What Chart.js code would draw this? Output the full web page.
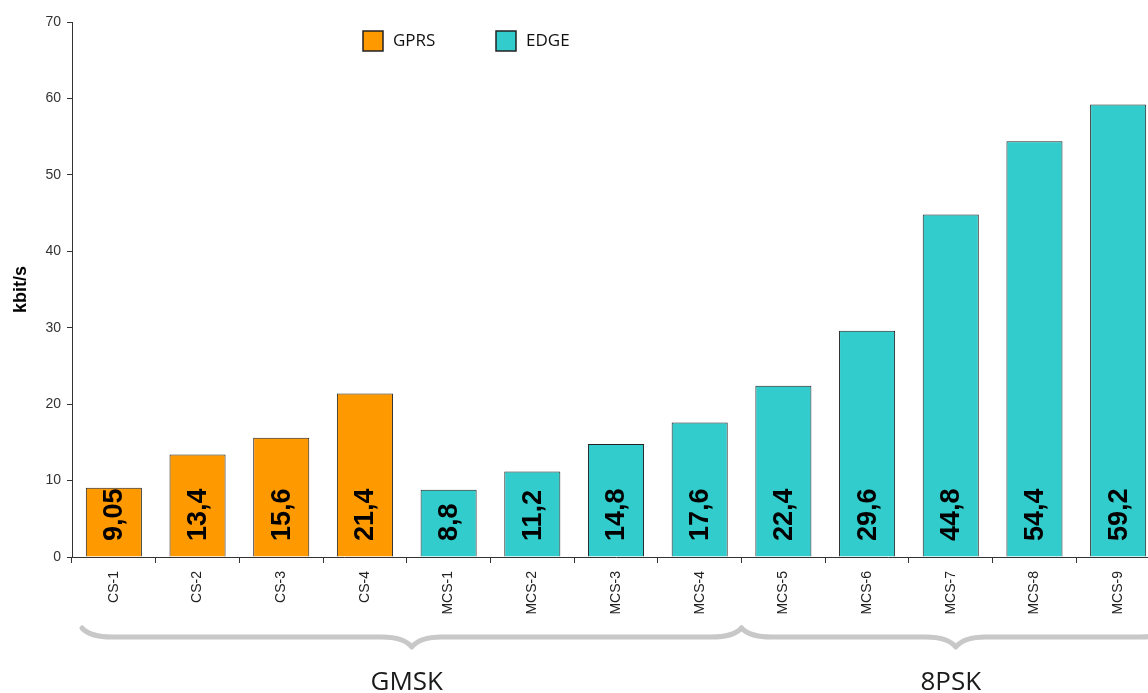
<!DOCTYPE html>
<html>
<head>
<meta charset="utf-8">
<script src="https://cdn.jsdelivr.net/npm/chart.js@4.4.0/dist/chart.umd.min.js"></script>
<style>
  html, body { margin: 0; padding: 0; background: #fff; overflow: hidden; }
  #wrap { width: 1160px; height: 693px; }
</style>
</head>
<body>
<div id="wrap"><canvas id="myChart" width="1160" height="693"></canvas></div>
<script>
const categories = ['CS-1', 'CS-2', 'CS-3', 'CS-4', 'MCS-1', 'MCS-2', 'MCS-3', 'MCS-4', 'MCS-5', 'MCS-6', 'MCS-7', 'MCS-8', 'MCS-9'];
const gprsValues = [9.05, 13.4, 15.6, 21.4, null, null, null, null, null, null, null, null, null];
const edgeValues = [null, null, null, null, 8.8, 11.2, 14.8, 17.6, 22.4, 29.6, 44.8, 54.4, 59.2];
const yTicks = [0, 10, 20, 30, 40, 50, 60, 70];
// modulation groups: label, first and last category index
const groups = [
  { label: 'GMSK', from: 0, to: 7 },
  { label: '8PSK', from: 8, to: 12 }
];

const orange = '#FF9900';
const teal = '#33CCCC';

// value labels inside bars, rotated
const valueLabels = {
  id: 'valueLabels',
  afterDatasetsDraw(chart) {
    const ctx = chart.ctx;
    const y0 = chart.scales.y.getPixelForValue(0);
    ctx.save();
    ctx.font = 'bold 27px "Liberation Sans", Arial, sans-serif';
    ctx.fillStyle = '#000';
    ctx.textAlign = 'left';
    ctx.textBaseline = 'middle';
    chart.data.datasets.forEach((ds, i) => {
      chart.getDatasetMeta(i).data.forEach((bar, j) => {
        const v = ds.data[j];
        if (v == null) return;
        ctx.save();
        ctx.translate(bar.x + 1, y0 - 16);
        ctx.rotate(-Math.PI / 2);
        ctx.fillText(String(v).replace('.', ','), 0, 0);
        ctx.restore();
      });
    });
    ctx.restore();
  }
};

// legend boxes at top
const boxLegend = {
  id: 'boxLegend',
  afterDraw(chart) {
    const ctx = chart.ctx;
    const items = [
      { x: 363, ds: chart.data.datasets[0] },
      { x: 496, ds: chart.data.datasets[1] }
    ];
    ctx.save();
    ctx.font = '17px "Open Sans", sans-serif';
    ctx.textBaseline = 'middle';
    items.forEach(it => {
      ctx.fillStyle = it.ds.backgroundColor;
      ctx.fillRect(it.x, 31, 20, 20);
      ctx.strokeStyle = '#222';
      ctx.lineWidth = 1.5;
      ctx.strokeRect(it.x, 31, 20, 20);
      ctx.fillStyle = '#111';
      ctx.fillText(it.ds.label, it.x + 30, 41);
    });
    ctx.restore();
  }
};

// curly braces under the axis with group names
const braces = {
  id: 'braces',
  afterDraw(chart) {
    const ctx = chart.ctx;
    const xs = chart.scales.x;
    const half = (xs.getPixelForValue(1) - xs.getPixelForValue(0)) / 2;
    const yLine = 637, yUp = 628, yDip = 647;
    ctx.save();
    ctx.strokeStyle = '#c8c8c8';
    ctx.lineWidth = 5;
    ctx.lineJoin = 'round';
    ctx.lineCap = 'round';
    groups.forEach((g, gi) => {
      let a = xs.getPixelForValue(g.from) - half + (gi === 0 ? 10 : 0);
      let b = xs.getPixelForValue(g.to) + half + (gi === groups.length - 1 ? 10 : 0);
      const m = (a + b) / 2;
      ctx.beginPath();
      ctx.moveTo(a, yUp);
      ctx.quadraticCurveTo(a + 8, yLine, a + 30, yLine);
      ctx.lineTo(m - 30, yLine);
      ctx.quadraticCurveTo(m - 8, yLine, m, yDip);
      ctx.quadraticCurveTo(m + 8, yLine, m + 30, yLine);
      ctx.lineTo(b - 30, yLine);
      ctx.quadraticCurveTo(b - 8, yLine, b, yUp);
      ctx.stroke();
      ctx.fillStyle = '#1a1a1a';
      ctx.font = '26px "Open Sans", sans-serif';
      ctx.textAlign = 'center';
      ctx.textBaseline = 'alphabetic';
      ctx.fillText(g.label, m - 5, 690);
    });
    ctx.restore();
  }
};

const ctx = document.getElementById('myChart').getContext('2d');
new Chart(ctx, {
  type: 'bar',
  data: {
    labels: categories,
    datasets: [
      { label: 'GPRS', data: gprsValues, backgroundColor: orange, borderColor: '#222', borderWidth: 1 },
      { label: 'EDGE', data: edgeValues, backgroundColor: teal, borderColor: '#222', borderWidth: 1 }
    ]
  },
  options: {
    responsive: false,
    animation: false,
    grouped: false,
    categoryPercentage: 1,
    barPercentage: 0.67,
    layout: { padding: { top: 22, right: 0, left: 0, bottom: 0 } },
    plugins: {
      legend: { display: false },
      tooltip: { enabled: false }
    },
    scales: {
      x: {
        afterFit(scale) { scale.height = 136; },
        grid: { display: true, drawOnChartArea: false, offset: true, tickLength: 6, color: '#333' },
        border: { color: '#333', width: 1 },
        ticks: {
          minRotation: 90, maxRotation: 90, autoSkip: false, padding: 8,
          color: '#222', font: { family: '"Liberation Sans", Arial, sans-serif', size: 14 }
        }
      },
      y: {
        min: 0, max: 70,
        afterFit(scale) { scale.width = 72; },
        afterBuildTicks(scale) { scale.ticks = yTicks.map(v => ({ value: v })); },
        grid: { display: true, drawOnChartArea: false, tickLength: 5, color: '#333' },
        border: { color: '#333', width: 1 },
        ticks: {
          padding: 6, color: '#333',
          font: { family: '"Liberation Sans", Arial, sans-serif', size: 14 }
        },
        title: {
          display: true, text: 'kbit/s', color: '#000', padding: { top: 10, bottom: 0 },
          font: { family: '"Liberation Sans", Arial, sans-serif', size: 18, weight: 'bold' }
        }
      }
    }
  },
  plugins: [valueLabels, boxLegend, braces]
});
</script>
</body>
</html>
